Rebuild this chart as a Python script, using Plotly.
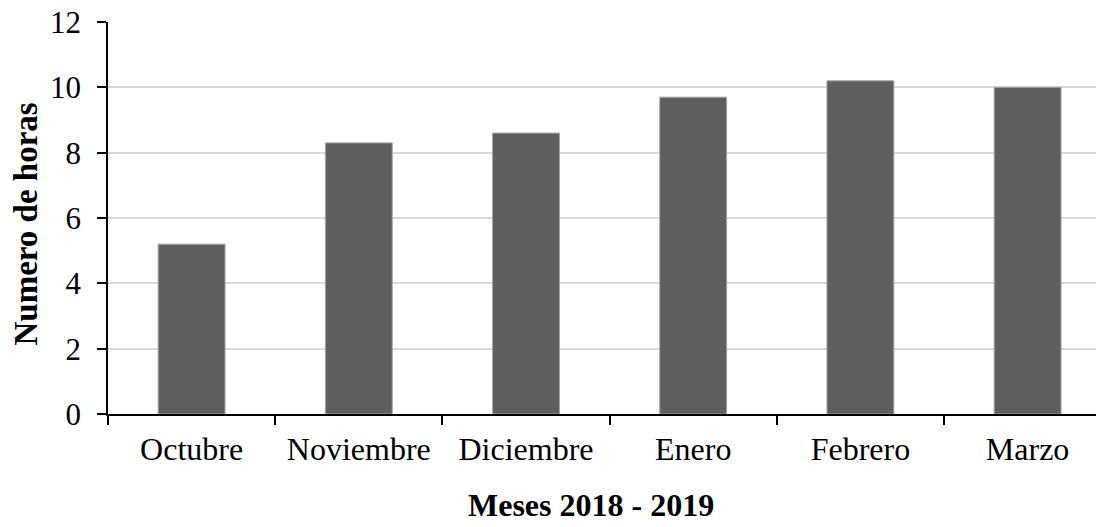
import plotly.graph_objects as go

months = ["Octubre", "Noviembre", "Diciembre", "Enero", "Febrero", "Marzo"]
hours = [5.2, 8.3, 8.6, 9.7, 10.2, 10.0]
y_ticks = [0, 2, 4, 6, 8, 10, 12]

FONT = "Liberation Serif, Times New Roman, serif"
# page body has an 8px margin; figure sized to fit the 1104x527 window
OFF = 8
W, H = 1104 - OFF, 527 - OFF
L, T = 108 - OFF, 22 - OFF
plot_h = 392
B = H - T - plot_h
R = 0
plot_w = W - L - R
cat_px = 167.2

fig = go.Figure(go.Bar(
    x=months, y=hours, width=0.4,
    marker=dict(color="#5f5f5f", line=dict(color="#a3a3a3", width=1)),
))

fig.update_layout(
    width=W, height=H,
    margin=dict(l=L, r=R, t=T, b=B, pad=0, autoexpand=False),
    plot_bgcolor="white", paper_bgcolor="white",
    showlegend=False,
    font=dict(family=FONT, size=32, color="black"),
)
fig.update_xaxes(
    type="category",
    range=[-0.5, -0.5 + plot_w / cat_px],
    showline=True, linecolor="black", linewidth=2,
    ticks="outside", tickson="boundaries", ticklen=9, tickwidth=2, tickcolor="black",
    showgrid=False, zeroline=False, automargin=False,
    tickfont=dict(family=FONT, size=32, color="black"),
    ticklabelstandoff=6,
)
fig.update_yaxes(
    range=[0, 12.001], tickvals=y_ticks, ticktext=[str(v) for v in y_ticks],
    showline=True, linecolor="black", linewidth=1.5,
    ticks="outside", ticklen=9, tickwidth=1.5, tickcolor="black",
    showgrid=True, gridcolor="#d9d9d9", gridwidth=1.5,
    zeroline=False, automargin=False,
    tickfont=dict(family=FONT, size=31, color="black"),
    ticklabelstandoff=10,
    ticklabeloverflow="allow",
)
fig.add_annotation(
    text="<b>Numero de horas</b>", textangle=-90,
    xref="paper", yref="paper",
    x=(25 - OFF - L) / plot_w, y=(T + plot_h - (224.5 - OFF)) / plot_h,
    xanchor="center", yanchor="middle", showarrow=False,
    font=dict(family=FONT, size=33, color="black"),
)
fig.add_annotation(
    text="<b>Meses 2018 - 2019</b>",
    xref="paper", yref="paper",
    x=(590.5 - OFF - L) / plot_w, y=(T + plot_h - (505 - OFF)) / plot_h,
    xanchor="center", yanchor="middle", showarrow=False,
    font=dict(family=FONT, size=32, color="black"),
)

fig.write_html("out.html")
